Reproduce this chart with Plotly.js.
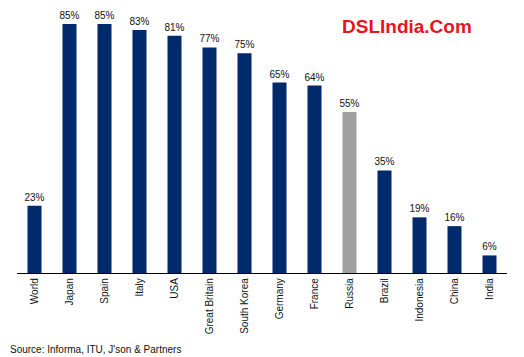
<!DOCTYPE html>
<html>
<head>
<meta charset="utf-8">
<script src="https://cdn.plot.ly/plotly-3.0.1.min.js"></script>
<style>html,body{margin:0;padding:0;background:#fff;}#chart{width:524px;height:357px;}</style>
</head>
<body>
<div id="chart"></div>
<script>
var countries = ["World","Japan","Spain","Italy","USA","Great Britain","South Korea","Germany","France","Russia","Brazil","Indonesia","China","India"];
var penetration = [23,85,85,83,81,77,75,65,64,55,35,19,16,6];
var navy = "#002A6C", grey = "#A0A0A0";
var barColors = countries.map(function(c){ return c === "Russia" ? grey : navy; });

var trace = {
  type: "bar",
  x: countries,
  y: penetration,
  marker: {color: barColors, line: {width: 0}},
  width: 0.4,
  text: penetration.map(function(v){ return v + "%"; }),
  textposition: "outside",
  constraintext: "none",
  textfont: {family: "Arial, Liberation Sans, sans-serif", size: 10, color: "#111"},
  cliponaxis: false,
  hoverinfo: "none"
};

var layout = {
  width: 524, height: 357,
  margin: {l: 17, r: 17, t: 0, b: 84},
  paper_bgcolor: "#fff", plot_bgcolor: "#fff",
  showlegend: false,
  bargap: 0.6,
  font: {family: "Arial, Liberation Sans, sans-serif", size: 10, color: "#111"},
  xaxis: {
    type: "category",
    showline: true, linecolor: "#000", linewidth: 1.2,
    ticks: "", tickangle: -90,
    tickfont: {family: "Arial, Liberation Sans, sans-serif", size: 10, color: "#111"},
    showgrid: false, zeroline: false, fixedrange: true
  },
  yaxis: {
    range: [0, 93.2], visible: false, showgrid: false, zeroline: false, fixedrange: true
  },
  annotations: [
    {text: "<b>DSLIndia.Com</b>", xref: "paper", yref: "paper", x: 407/490 - 17/490, y: 1 - 27/273,
     xanchor: "center", yanchor: "middle", showarrow: false,
     font: {family: "Arial, Liberation Sans, sans-serif", size: 19, color: "#E8141E"}},
    {text: "Source: Informa, ITU, J'son & Partners", xref: "paper", yref: "paper",
     x: -9/490, y: -77/273, xanchor: "left", yanchor: "middle", showarrow: false,
     font: {family: "Arial, Liberation Sans, sans-serif", size: 10, color: "#111"}}
  ]
};

Plotly.newPlot("chart", [trace], layout, {displayModeBar: false, staticPlot: true});
</script>
</body>
</html>
